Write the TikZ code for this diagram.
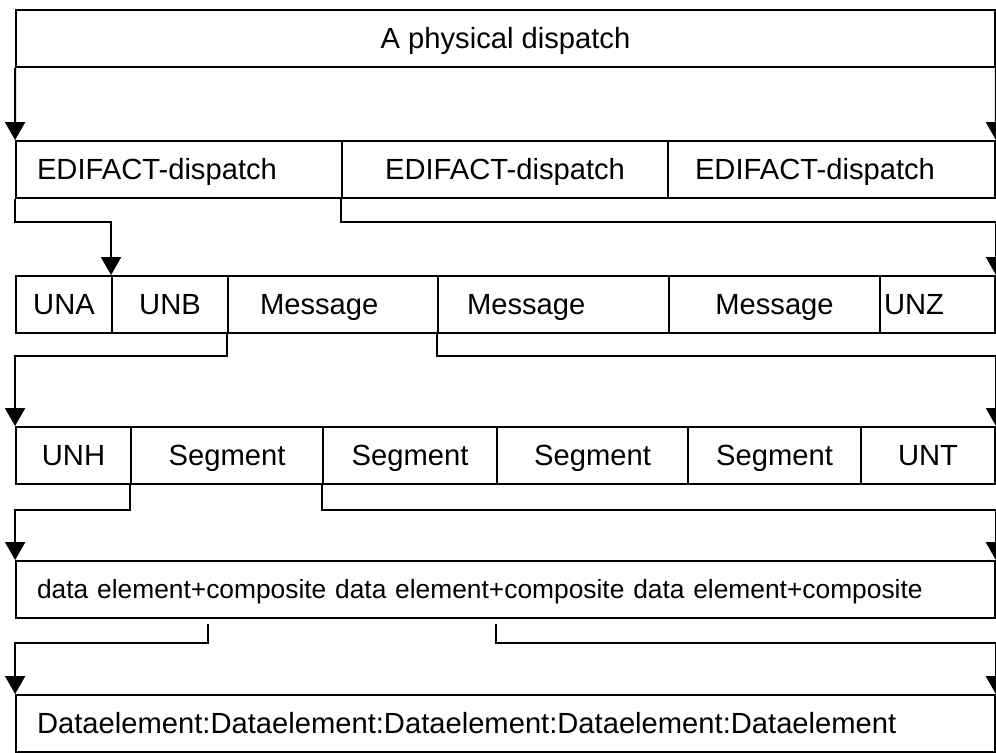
\documentclass[tikz,border=0pt]{standalone}
\usepackage{fontspec}
\setmainfont{Liberation Sans}
\usepackage{tikz}
\usetikzlibrary{arrows.meta, positioning, calc}
\tikzset{
    cellbox/.style={
        rectangle,
        draw=black,
        line width=1.1pt,
        align=center,
        minimum height=1.14cm,
        inner sep=0pt,
        text height=11.9pt,
        text depth=0pt,
        font=\fontsize{16.6pt}{20pt}\selectfont
    },
    leftcell/.style={
        cellbox,
        align=left,
        inner xsep=#1
    },
    flowarrow/.style={-{Triangle[width=0.4cm, length=0.36cm]}, line width=1.1pt, draw=black},
    flowline/.style={line width=1.1pt, draw=black}
}

\begin{document}
\begin{tikzpicture}[x=0.02cm, y=-0.02cm]
        \useasboundingbox (0,0) rectangle (996,752);

        % physical dispatch
        \node[cellbox, minimum width=19.58cm] (phys) at (505.5,38.5) {A physical dispatch};

        % interchanges
        \node[leftcell=0.42cm, text width=5.68cm, minimum width=6.52cm] (edi1) at (179,169.5) {EDIFACT-dispatch};
        \node[cellbox, minimum width=6.52cm] (edi2) at (505,169.5) {EDIFACT-dispatch};
        \node[leftcell=0.54cm, text width=5.46cm, minimum width=6.54cm] (edi3) at (831.5,169.5) {EDIFACT-dispatch};

        % interchange content
        \node[cellbox, minimum width=1.92cm] (una) at (64,304.5) {UNA};
        \node[cellbox, minimum width=2.32cm] (unb) at (170,304.5) {UNB};
        \node[leftcell=0.64cm, text width=2.92cm, minimum width=4.2cm] (msg1) at (333,304.5) {Message};
        \node[leftcell=0.58cm, text width=3.46cm, minimum width=4.62cm] (msg2) at (553.5,304.5) {Message};
        \node[cellbox, minimum width=4.22cm] (msg3) at (774.5,304.5) {Message};
        \node[leftcell=0.08cm, text width=2.14cm, minimum width=2.3cm] (unz) at (937.5,304.5) {UNZ};

        % message content
        \node[cellbox, minimum width=2.3cm] (unh) at (73.5,455.5) {UNH};
        \node[cellbox, minimum width=3.84cm] (seg1) at (227,455.5) {Segment};
        \node[cellbox, minimum width=3.48cm] (seg2) at (410,455.5) {Segment};
        \node[cellbox, minimum width=3.82cm] (seg3) at (592.5,455.5) {Segment};
        \node[cellbox, minimum width=3.46cm] (seg4) at (774.5,455.5) {Segment};
        \node[cellbox, minimum width=2.68cm] (unt) at (928,455.5) {UNT};

        % segment content
        \node[leftcell=0.42cm, text width=18.74cm, minimum width=19.58cm, text height=10.7pt, font=\fontsize{15pt}{18pt}\selectfont] (elems) at (505.5,589.5) {data element+composite data element+composite data element+composite};
        \node[leftcell=0.42cm, text width=18.74cm, minimum width=19.58cm] (dataels) at (505.5,723.5) {Dataelement:Dataelement:Dataelement:Dataelement:Dataelement};

        \coordinate (cut1) at (208,624);
        \coordinate (cut2) at (496,624);

        \draw[flowarrow] (phys.south west) -- (edi1.north west);
        \draw[flowarrow] (phys.south east) -- (edi3.north east);
        \draw[flowarrow] (edi1.south west) -- ++(0,23) -| (unb.north west);
        \draw[flowarrow] (edi2.south west) -- ++(0,23) -| (unz.north east);
        \draw[flowarrow] (msg1.south west) -- ++(0,22) -| (unh.north west);
        \draw[flowarrow] (msg2.south west) -- ++(0,22) -| (unt.north east);
        \draw[flowarrow] (seg1.south west) -- ++(0,25) -| (elems.north west);
        \draw[flowarrow] (seg2.south west) -- ++(0,25) -| (elems.north east);
        \draw[flowarrow] (cut1) -- ++(0,19) -| (dataels.north west);
        \draw[flowarrow] (cut2) -- ++(0,19) -| (dataels.north east);
    \end{tikzpicture}
\end{document}
